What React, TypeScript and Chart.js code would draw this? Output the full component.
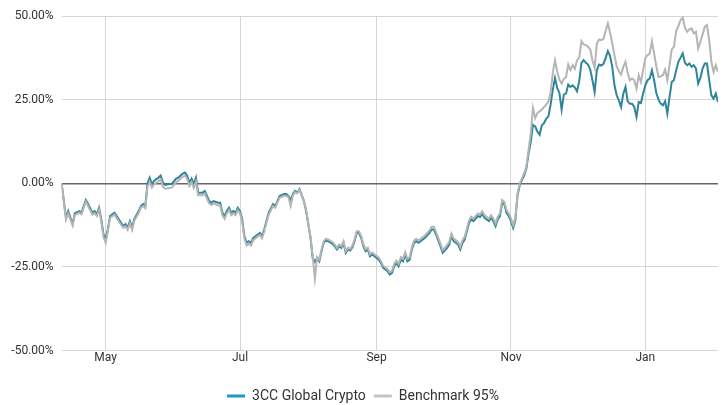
import { useEffect, useRef } from 'react';
import { Chart, registerables } from 'chart.js';

Chart.register(...registerables);

// Day offsets from 2023-04-11
const days = [
  0, 2, 3, 5, 6, 8, 9, 11, 12, 14, 15, 16, 17, 18, 19, 20, 21, 22, 24, 25, 27, 28, 29, 30, 31, 32, 33, 35, 36, 37, 38,
  39, 40, 41, 42, 44, 45, 46, 47, 49, 50, 52, 53, 55, 56, 57, 58, 59, 60, 61, 62, 64, 65, 66, 67, 68, 69, 71, 72, 73,
  74, 75, 76, 77, 78, 79, 80, 81, 82, 83, 84, 85, 86, 87, 89, 90, 91, 92, 93, 94, 96, 97, 98, 99, 101, 102, 103, 104,
  105, 106, 107, 108, 110, 111, 112, 113, 114, 115, 116, 117, 118, 119, 120, 121, 123, 124, 125, 126, 127, 128, 129,
  130, 131, 132, 133, 134, 135, 136, 137, 138, 139, 140, 141, 142, 143, 144, 145, 146, 148, 149, 150, 151, 152, 153,
  154, 155, 156, 157, 158, 159, 160, 161, 162, 164, 165, 167, 168, 169, 170, 171, 172, 173, 175, 176, 177, 178, 180,
  181, 182, 183, 184, 185, 186, 187, 189, 190, 191, 192, 193, 194, 195, 196, 197, 198, 199, 200, 201, 202, 203, 204,
  205, 206, 207, 208, 209, 210, 211, 212, 213, 214, 215, 216, 217, 218, 219, 220, 221, 222, 223, 224, 225, 226, 227,
  228, 229, 230, 231, 232, 233, 234, 235, 236, 237, 238, 239, 240, 241, 242, 243, 244, 245, 246, 247, 248, 249, 250,
  251, 252, 253, 254, 255, 256, 257, 258, 259, 260, 261, 262, 263, 264, 265, 266, 267, 268, 269, 270, 271, 272, 273,
  274, 275, 276, 277, 278, 279, 280, 281, 282, 283, 284, 285, 286, 287, 288, 289, 290, 291, 292, 293, 294, 295, 296,
  297, 298,
];

const cryptoReturns = [
  0, -10.3, -8.3, -12.2, -8.9, -8.3, -8.8, -5.0, -6.2, -8.8, -8.3, -9.2, -7.3, -10.7, -15.2, -16.7, -13.7, -9.8, -8.8,
  -9.8, -11.8, -12.8, -12.2, -13.3, -11.3, -13.3, -10.7, -8.3, -6.8, -6.2, -6.8,
  0.0, 1.7, -0.2, 0.8, 1.7, 2.3, 0.2, -0.5, -0.2, -0.2, 1.4, 1.7, 2.9, 3.2, 2.3, 0.2, 1.4, -0.2, 1.7, -2.8, -2.8, -2.3,
  -3.8, -5.3, -5.8, -5.3, -5.8, -5.8, -8.8,
  -9.8, -8.3, -7.3, -8.8, -8.3, -8.8, -7.3, -8.3, -10.8, -15.8, -17.8, -17.3, -17.8, -16.3, -15.3, -14.8, -15.8, -13.8,
  -11.3, -8.8, -6.2, -6.8, -5.3, -3.8, -3.2, -3.2, -3.8, -5.0,
  -3.2, -2.3, -2.8, -1.7, -5.3, -8.3, -12.2, -16.3, -22.3, -23.5, -22.3, -23.3, -20.3, -17.8, -17.1, -17.3, -18.1, -18.8,
  -19.8, -18.8, -19.3, -17.8, -20.8,
  -19.8, -20.1, -19.1, -17.3, -14.8, -14.8, -16.3, -18.8, -20.3, -19.8, -21.8, -21.3, -21.8, -22.3, -22.8, -23.8, -25.3,
  -26.3, -27.3, -26.8, -24.8, -23.8, -24.8,
  -22.8, -23.3, -21.3, -23.3, -22.8, -19.8, -17.8, -17.3, -17.8, -16.8, -16.3, -14.8, -13.8, -13.8, -15.3, -17.1, -18.8,
  -20.8, -19.3, -18.3, -15.8, -17.3, -18.3,
  -19.8, -17.8, -16.8, -14.3, -11.8, -10.8, -11.3, -9.8, -10.1, -9.1, -10.3, -10.8, -11.3, -10.3, -11.3, -12.8, -10.8,
  -9.8, -5.9, -6.2, -8.8, -9.8, -11.3,
  -13.3, -11.0, -3.5, -0.5, 1.0, 2.4, 4.5, 8.9, 12.5, 17.5, 17.0, 15.5, 14.5, 17.3, 18.0, 19.3, 20.0, 23.5, 28.0, 31.5,
  28.5, 27.0, 22.0,
  26.5, 26.8, 29.5, 28.8, 29.3, 28.6, 27.5, 30.5, 36.0, 36.8, 36.0, 35.5, 34.0, 30.8, 27.3, 33.8, 35.5, 35.2, 35.7, 37.5,
  39.5, 38.0, 34.8,
  29.3, 26.3, 24.8, 22.8, 26.8, 28.8, 24.5, 23.8, 23.8, 22.8, 19.8, 24.3, 24.0, 26.8, 29.3, 30.8, 31.3, 33.8, 30.8, 27.0,
  25.0, 23.8, 23.3,
  24.5, 20.8, 25.8, 30.3, 30.8, 33.8, 36.3, 37.5, 38.8, 36.0, 35.3, 35.8, 34.8, 35.3, 34.3, 29.8, 31.5, 34.3, 35.8, 35.8,
  30.8, 26.3, 25.3,
  26.8, 24.3,
];

const benchmarkReturns = [
  0, -10.8, -9.0, -12.6, -9.5, -8.8, -9.3, -5.5, -6.8, -9.4, -8.9, -9.8, -7.9, -11.3, -16.0, -17.8, -14.4, -10.4, -9.3,
  -10.4, -12.4, -13.3, -12.8, -13.9, -11.9, -13.9, -11.2, -8.9, -7.3, -6.8, -7.4,
  -1.0, 0.5, -1.3, -0.3, 0.6, 1.2, -1.0, -1.6, -1.4, -1.3, 0.3, 0.8, 2.0, 2.3, 1.4, -0.8, 0.4, -1.4, 0.5, -3.6, -3.6, -3.1,
  -4.6, -6.0, -6.5, -6.0, -6.6, -6.6, -9.6,
  -10.6, -9.0, -8.0, -9.5, -9.0, -9.5, -8.0, -9.0, -11.5, -16.5, -18.6, -18.0, -18.6, -17.0, -15.9, -15.4, -16.4, -14.4,
  -11.9, -9.4, -6.8, -7.3, -5.8, -4.3, -3.7, -3.7, -4.2, -6.8,
  -3.6, -2.7, -3.0, -1.9, -5.3, -8.0, -12.0, -16.0, -22.0, -28.5, -22.0, -22.8, -19.8, -17.3, -16.6, -16.8, -17.6, -18.3,
  -19.3, -18.3, -18.8, -17.3, -20.3,
  -19.3, -19.6, -18.6, -16.8, -14.3, -14.3, -15.7, -18.2, -19.7, -19.2, -21.2, -20.7, -21.2, -21.7, -22.2, -23.2, -24.7,
  -25.7, -26.6, -26.1, -24.1, -23.1, -24.1,
  -22.1, -22.6, -20.6, -22.6, -22.1, -19.1, -17.1, -16.6, -17.1, -16.1, -15.6, -14.1, -13.0, -13.0, -14.5, -16.3, -18.0,
  -20.0, -18.5, -17.5, -15.0, -16.5, -17.5,
  -19.0, -17.0, -16.0, -13.5, -11.0, -10.0, -10.5, -9.0, -9.3, -8.3, -9.5, -10.0, -10.5, -9.5, -10.5, -12.0, -10.0,
  -9.0, -5.0, -5.6, -8.0, -9.0, -10.5,
  -12.5, -10.3, -3.0, 0.0, 1.5, 3.0, 5.0, 10.0, 15.0, 22.5, 19.5, 21.0, 21.5, 22.0, 22.8, 23.5, 24.5, 27.0, 33.0, 36.8,
  33.5, 31.0, 29.8,
  31.2, 31.7, 35.5, 33.8, 35.3, 34.2, 36.8, 37.5, 42.5, 41.5, 41.3, 40.8, 40.0, 36.8, 34.5, 41.8, 43.0, 42.8, 43.2, 45.5,
  47.8, 45.0, 41.8,
  38.3, 35.0, 33.5, 32.5, 34.8, 36.3, 33.0, 30.8, 31.3, 30.8, 28.3, 32.3, 30.3, 33.8, 37.5, 38.3, 38.8, 42.5, 38.8, 35.0,
  31.8, 32.0, 32.3,
  34.0, 30.8, 35.3, 40.0, 40.8, 45.5, 47.0, 48.8, 49.5, 46.5, 45.3, 46.0, 46.3, 44.8, 45.3, 40.3, 42.3, 44.5, 46.8, 47.3,
  42.8, 36.3, 33.3,
  35.3, 33.3,
];

const seriesLabels = ['3CC Global Crypto', 'Benchmark 95%'];
const monthTickDays = [20, 81, 143, 204, 265];
const monthTickLabels = ['May', 'Jul', 'Sep', 'Nov', 'Jan'];
const yTicks = [-50, -25, 0, 25, 50];
const xMax = 298;

export default function App() {
  const ref = useRef<HTMLCanvasElement>(null);

  useEffect(() => {
    if (!ref.current) return;
    const chart = new Chart(ref.current, {
      type: 'line',
      data: {
        datasets: [
          {
            label: seriesLabels[0],
            data: days.map((d, i) => ({ x: d, y: cryptoReturns[i] })),
            borderColor: '#2f8599',
            backgroundColor: '#1b96c6',
            borderWidth: 2,
            pointRadius: 0,
            tension: 0,
            order: 1,
          },
          {
            label: seriesLabels[1],
            data: days.map((d, i) => ({ x: d, y: benchmarkReturns[i] })),
            borderColor: '#b5b5b5',
            backgroundColor: '#c4c4c4',
            borderWidth: 2,
            pointRadius: 0,
            tension: 0,
            order: 0,
          },
        ],
      },
      options: {
        animation: false,
        responsive: true,
        maintainAspectRatio: false,
        layout: { padding: { left: 8, right: 8, top: 16, bottom: 0 } },
        scales: {
          x: {
            type: 'linear',
            min: 0,
            max: xMax,
            afterBuildTicks: (s: any) => {
              s.ticks = monthTickDays.map((v) => ({ value: v }));
            },
            afterFit: (s: any) => {
              s.height = 30.4;
            },
            ticks: {
              autoSkip: false,
              maxRotation: 0,
              padding: 0,
              color: '#333',
              font: { family: 'Roboto', size: 12 },
              callback: (v: any) => {
                const i = monthTickDays.indexOf(Number(v));
                return i >= 0 ? monthTickLabels[i] : '';
              },
            },
            grid: { color: '#d6d6d6', drawTicks: false },
            border: { display: false },
          },
          y: {
            min: -50,
            max: 50,
            afterBuildTicks: (s: any) => {
              s.ticks = yTicks.map((v) => ({ value: v }));
            },
            afterFit: (s: any) => {
              s.width = 53.6;
            },
            ticks: {
              padding: 8,
              color: '#333',
              font: { family: 'Roboto', size: 12 },
              callback: (v: any) => Number(v).toFixed(2) + '%',
            },
            grid: {
              color: (c: any) => (c.tick && c.tick.value === 0 ? '#666' : '#d6d6d6'),
              lineWidth: (c: any) => (c.tick && c.tick.value === 0 ? 1.5 : 1),
              drawTicks: false,
            },
            border: { display: false },
          },
        },
        plugins: {
          legend: {
            position: 'bottom',
            labels: {
              boxWidth: 18,
              boxHeight: 3,
              padding: 8,
              color: '#333',
              font: { family: 'Roboto', size: 14 },
              sort: (a: any, b: any) => a.datasetIndex - b.datasetIndex,
              generateLabels: (c: any) =>
                (Chart.defaults.plugins.legend.labels.generateLabels as any)(c).map((l: any) => ({
                  ...l,
                  lineWidth: 0,
                })),
            },
          },
          tooltip: { enabled: false },
        },
      },
    });
    return () => chart.destroy();
  }, []);

  return (
    <div style={{ position: 'absolute', left: 0, top: 0, width: 726, height: 405, overflow: 'hidden' }}>
      <div style={{ position: 'relative', width: 726, height: 413 }}>
        <canvas ref={ref} />
      </div>
    </div>
  );
}
